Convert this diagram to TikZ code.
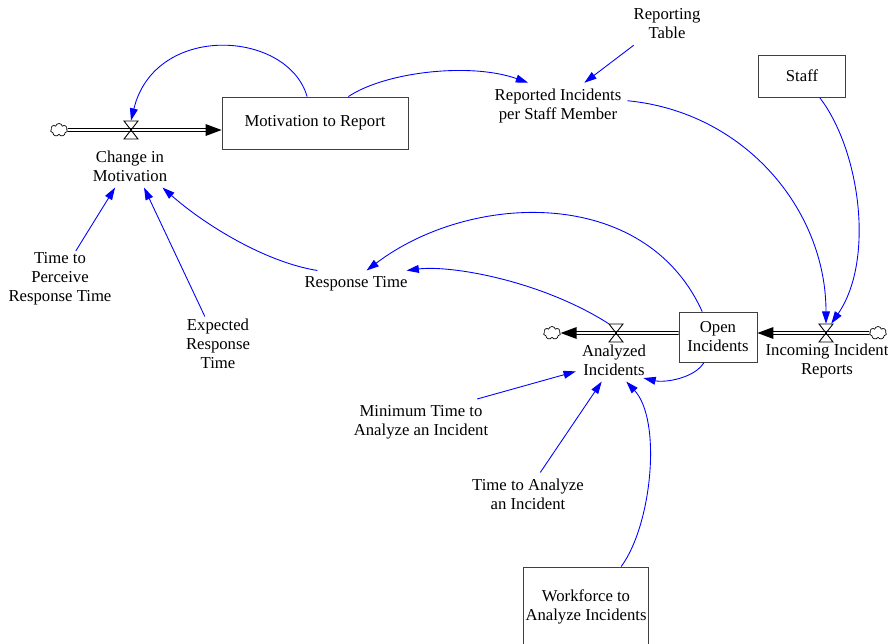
\documentclass[tikz,border=0pt]{standalone}
\usepackage{fontspec}
\setmainfont{Liberation Serif}
\usetikzlibrary{arrows.meta,shapes.symbols}

\tikzset{
  stock/.style={draw=black!75, line width=0.5pt, align=center},
  aux/.style={align=center},
  link/.style={blue, line width=0.5pt, -{Triangle[length=7pt,width=4.5pt]}},
  pipe/.style={double=white, double distance=0.9pt, line width=0.6pt},
  cloudy/.style={draw, cloud, cloud puffs=7, aspect=1.4, minimum width=0.34cm, minimum height=0.26cm, inner sep=0pt},
  valvebox/.style={inner sep=0pt, minimum width=0.28cm, minimum height=0.36cm},
  valve/.pic={\draw[line width=0.5pt] (-7,-9) -- (7,-9) -- (-7,9) -- (7,9) -- cycle;}
}

\begin{document}
\begin{tikzpicture}[x=0.02cm, y=-0.02cm, font=\fontsize{9.5}{10.8}\selectfont]
    \useasboundingbox (0,0) rectangle (888,643);

    % stocks and clouds
    \node[stock, minimum width=3.72cm, minimum height=1.04cm] at (315,123) (motiv) {Motivation to Report};
    \node[stock, minimum width=1.74cm, minimum height=0.84cm] at (802,76) (staff) {Staff};
    \node[stock, minimum width=1.56cm, minimum height=1.0cm] at (718,337) (openinc) {Open\\Incidents};
    \node[stock, inner xsep=1pt, minimum width=2.46cm, minimum height=1.6cm] at (586,607) (workforce) {Workforce to\\Analyze Incidents};
    \node[cloudy] at (59,130) (cloudL) {};
    \node[cloudy] at (552,333) (cloudA) {};
    \node[cloudy] at (878,333) (cloudR) {};

    % valves
    \node[valvebox] at (131,130) (change) {};
    \node[valvebox] at (616,333) (anavalve) {};
    \node[valvebox] at (826,333) (incvalve) {};

    % flows
    \draw[pipe, shorten >=8.5pt] (cloudL.east) -- (motiv.west |- change);
    \fill (motiv.west |- change) -- ++(-16,-6) -- ++(0,12) -- cycle;
    \draw[pipe, shorten >=8.5pt] (openinc.west |- anavalve) -- (cloudA.east);
    \fill (cloudA.east) -- ++(16,-6) -- ++(0,12) -- cycle;
    \draw[pipe, shorten >=8.5pt] (cloudR.west) -- (openinc.east |- incvalve);
    \fill (openinc.east |- incvalve) -- ++(16,-6) -- ++(0,12) -- cycle;
    \pic at (change) {valve};
    \pic at (anavalve) {valve};
    \pic at (incvalve) {valve};

    % labels and auxiliaries
    \node[aux] at (130,166) (changelbl) {Change in\\Motivation};
    \node[aux] at (614,360) (analbl) {Analyzed\\Incidents};
    \node[aux] at (827,361) (inclbl) {Incoming Incident\\Reports};
    \node[aux] at (667,24) (reptable) {Reporting\\Table};
    \node[aux] at (558,106) (reported) {Reported Incidents\\per Staff Member};
    \node[aux] at (356,284) (resp) {Response Time};
    \node[aux] at (60,279) (perceive) {Time to\\Perceive\\Response Time};
    \node[aux] at (218,344) (expected) {Expected\\Response\\Time};
    \node[aux] at (421,422) (mintime) {Minimum Time to\\Analyze an Incident};
    \node[aux] at (528,494) (timeana) {Time to Analyze\\an Incident};

    % links
    \draw[link] ([xshift=-4.5pt]motiv.north) .. controls (288,30) and (155,22) .. (change.north);
    \draw[link] ([xshift=19pt]motiv.north) .. controls (385,72) and (470,62) .. ([xshift=-17pt]reported.north);
    \draw[link] ([xshift=-19pt]reptable.south) -- ([xshift=15pt]reported.north);
    \draw[link] ([yshift=3pt]reported.east) .. controls (745,112) and (826,210) .. (incvalve.north);
    \draw[link] ([xshift=10pt]staff.south) .. controls (860,150) and (875,260) .. ([xshift=3pt]incvalve.north);
    \draw[link] ([xshift=-9pt]openinc.north) .. controls (645,185) and (470,192) .. ([xshift=6pt]resp.north);
    \draw[link] (anavalve.north west) .. controls (540,280) and (450,265) .. ([xshift=-4pt]resp.north east);
    \draw[link] ([xshift=-22pt]resp.north) .. controls (265,262) and (205,225) .. ([xshift=18.5pt]changelbl.south);
    \draw[link] ([xshift=9pt,yshift=-2.5pt]perceive.north) -- ([xshift=-8.5pt]changelbl.south);
    \draw[link] ([xshift=-7.5pt,yshift=-2pt]expected.north) -- ([xshift=8pt]changelbl.south);
    \draw[link] ([xshift=-8pt]openinc.south) .. controls (695,378) and (665,383) .. ([xshift=-5pt,yshift=2pt]analbl.south east);
    \draw[link] ([xshift=32pt]mintime.north) -- ([yshift=-6.5pt]analbl.west);
    \draw[link] ([xshift=7pt]timeana.north) -- ([xshift=-7pt]analbl.south);
    \draw[link] ([xshift=20pt]workforce.north) .. controls (652,525) and (662,420) .. ([xshift=7pt]analbl.south);

\end{tikzpicture}
\end{document}
